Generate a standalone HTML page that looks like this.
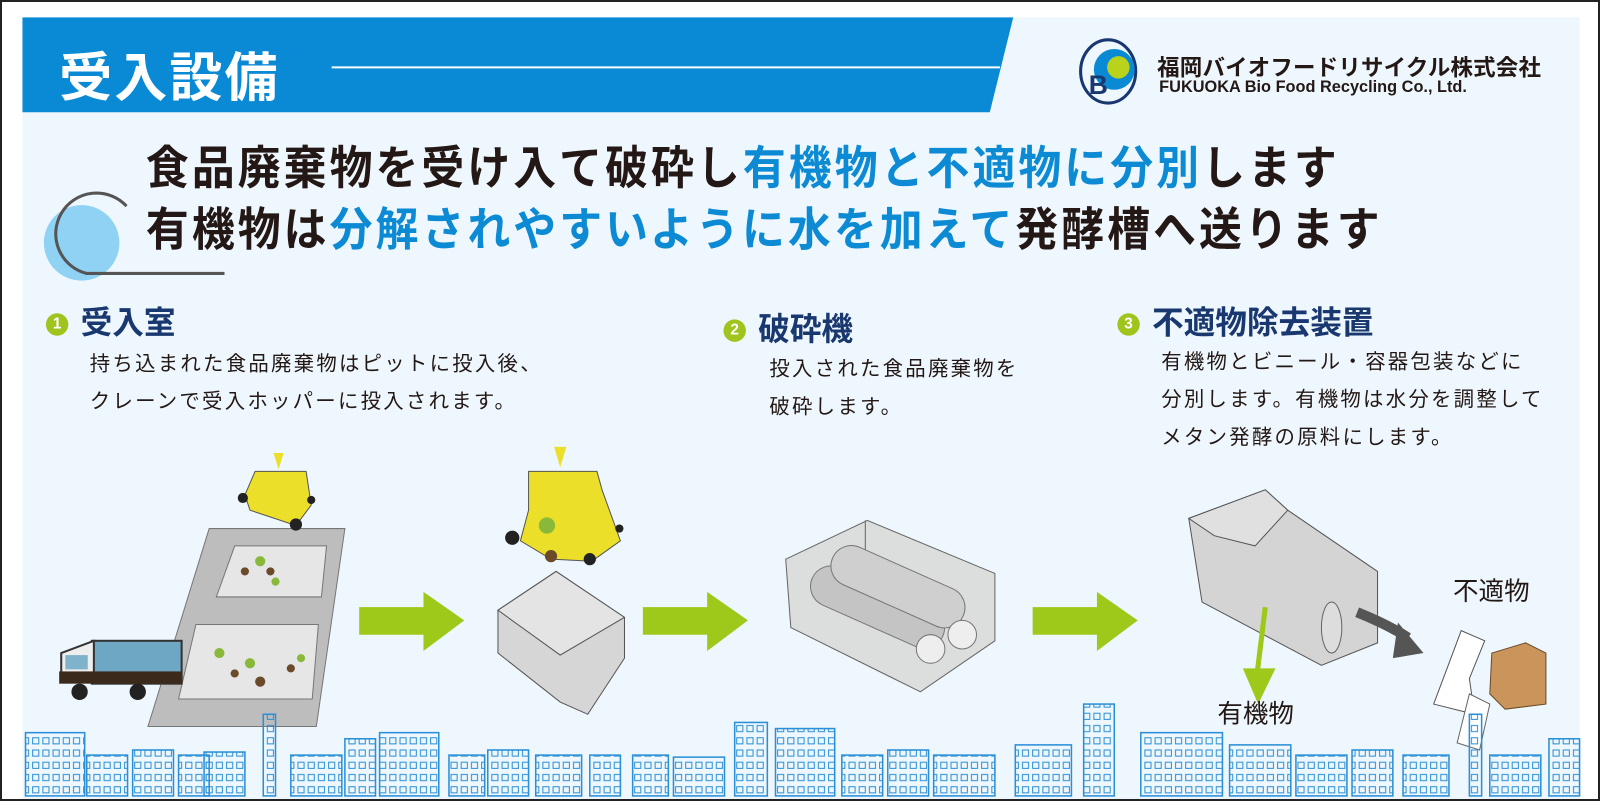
<!DOCTYPE html>
<html><head><meta charset="utf-8"><style>
body{margin:0;width:1600px;height:801px;overflow:hidden;background:#fff;font-family:"Liberation Sans","Noto Sans CJK JP",sans-serif;}
#f{position:absolute;left:0;top:0;width:1596px;height:797px;border:2px solid #222;z-index:5}
#w{position:absolute;left:0;top:0;width:1568px;height:785px;transform:scale(1.0204);transform-origin:0 0}
.t{position:absolute;white-space:nowrap;}
.h{font-weight:bold;font-size:42px;color:#231815;letter-spacing:3px;transform:scale(1,1.08);transform-origin:0 50%}
.b{color:#0c8ad4}
.sec{font-weight:bold;font-size:31px;color:#1a3870}
.num{display:inline-block;width:22px;height:22px;border-radius:50%;background:#9fc41e;color:#fff;font-size:15px;text-align:center;line-height:22px;margin-right:12px;vertical-align:5px}
.p{font-size:20px;color:#231815;line-height:37px;letter-spacing:2.2px}
</style></head><body>
<div id="f"></div>
<div id="w">
<div style="position:absolute;left:22px;top:17px;width:1526px;height:766px;background:#eef7fd"></div>
<svg style="position:absolute;left:0;top:0" width="1568" height="785">
<defs>
<pattern id="win" width="10" height="12" patternUnits="userSpaceOnUse"><rect x="2" y="3" width="6" height="6" fill="none" stroke="#2a8fd6" stroke-width="1"/></pattern>
</defs>
<polygon points="22,17 993,17 970,110 22,110" fill="#0a8ad5"/>
<line x1="325" y1="66" x2="980" y2="66" stroke="#fff" stroke-width="2"/>
<circle cx="80" cy="238" r="37" fill="#8fd2f4"/>
<path d="M124,202 A40,40 0 1 0 85,268 L220,268" fill="none" stroke="#555" stroke-width="3"/>
<ellipse cx="1086" cy="70" rx="27" ry="31" fill="none" stroke="#1a3870" stroke-width="3"/>
<circle cx="1092" cy="68" r="20" fill="#0a8ad5"/>
<circle cx="1096" cy="66" r="11" fill="#b9d21c"/>
<text x="1067" y="92" font-family="Liberation Sans" font-weight="bold" font-size="26" fill="#1a3870">B</text>
<g fill="#9fc91a">
<polygon points="352,595 415,595 415,580 455,608 415,638 415,622 352,622"/>
<polygon points="630,595 693,595 693,580 733,608 693,638 693,622 630,622"/>
<polygon points="1012,595 1075,595 1075,580 1115,608 1075,638 1075,622 1012,622"/>
</g>
<polygon points="205,518 338,518 310,712 145,712" fill="#bdbdbd" stroke="#777"/>
<polygon points="230,535 320,535 315,585 212,585" fill="#e6e6e6" stroke="#777"/>
<polygon points="192,612 312,612 306,685 175,685" fill="#e6e6e6" stroke="#777"/>
<g fill="#6b4a2a"><circle cx="240" cy="560" r="4"/><circle cx="265" cy="560" r="4"/><circle cx="230" cy="660" r="4"/><circle cx="255" cy="668" r="5"/><circle cx="285" cy="655" r="4"/></g>
<g fill="#8ab83a"><circle cx="255" cy="550" r="5"/><circle cx="270" cy="570" r="4"/><circle cx="215" cy="640" r="5"/><circle cx="245" cy="650" r="5"/><circle cx="295" cy="645" r="4"/></g>
<polygon points="250,462 300,462 305,495 290,515 245,500 240,485" fill="#ecdf2a" stroke="#555"/>
<circle cx="238" cy="488" r="5" fill="#222"/><circle cx="290" cy="514" r="6" fill="#222"/><circle cx="305" cy="490" r="4" fill="#222"/>
<polygon points="268,444 278,444 273,460" fill="#ecdf2a"/>
<rect x="90" y="628" width="88" height="42" fill="#6ea7c4" stroke="#333" stroke-width="2"/>
<polygon points="60,640 92,628 92,668 60,668" fill="#eee" stroke="#333" stroke-width="2"/>
<rect x="64" y="642" width="22" height="14" fill="#7fb3cc"/>
<rect x="58" y="658" width="120" height="12" fill="#3b2a1c"/>
<circle cx="78" cy="678" r="8" fill="#222"/><circle cx="135" cy="678" r="8" fill="#222"/>
<polygon points="518,462 585,462 590,480 608,530 580,550 540,548 510,530 518,500" fill="#ecdf2a" stroke="#555"/>
<circle cx="502" cy="527" r="7" fill="#222"/><circle cx="578" cy="548" r="6" fill="#222"/><circle cx="607" cy="518" r="4" fill="#222"/>
<polygon points="543,438 555,438 549,458" fill="#ecdf2a"/>
<circle cx="536" cy="515" r="8" fill="#8ab83a"/><circle cx="540" cy="545" r="6" fill="#6b4a2a"/>
<polygon points="545,560 612,605 612,645 576,700 549,688 488,640 488,598" fill="#d6d6d6" stroke="#555"/>
<polygon points="545,560 612,605 549,642 488,598" fill="#e4e4e4" stroke="#555"/>
<polygon points="770,548 850,510 975,562 975,628 902,678 775,615" fill="#d9d9d9" stroke="#666" fill-opacity="0.9"/>
<line x1="848" y1="510" x2="848" y2="565" stroke="#666"/>
<rect x="790" y="575" width="140" height="40" rx="20" transform="rotate(24 860 595)" fill="#c4c4c4" stroke="#777"/>
<rect x="810" y="555" width="140" height="40" rx="20" transform="rotate(24 880 575)" fill="#cfcfcf" stroke="#777"/>
<circle cx="912" cy="636" r="14" fill="#eee" stroke="#777"/><circle cx="943" cy="622" r="14" fill="#eee" stroke="#777"/>
<polygon points="1165,508 1240,480 1262,500 1350,560 1350,630 1295,652 1178,590" fill="#d4d4d4" stroke="#555"/>
<polygon points="1165,508 1240,480 1262,500 1230,535 1190,525" fill="#e0e0e0" stroke="#555"/>
<ellipse cx="1305" cy="615" rx="10" ry="25" fill="#ddd" stroke="#666"/>
<line x1="1240" y1="595" x2="1232" y2="660" stroke="#9fc91a" stroke-width="5"/>
<polygon points="1218,655 1250,655 1233,690" fill="#9fc91a"/>
<path d="M1330,600 Q1360,612 1380,625" stroke="#555" stroke-width="10" fill="none"/>
<polygon points="1370,610 1395,640 1365,645" fill="#555"/>
<polygon points="1432,618 1455,628 1440,665 1445,700 1405,690 1420,650" fill="#fff" stroke="#555"/>
<polygon points="1462,640 1495,630 1515,640 1515,690 1475,695 1460,680" fill="#c9955a" stroke="#6b4a2a"/>
<polygon points="1440,680 1460,690 1450,735 1428,728" fill="#fff" stroke="#666"/>
<g fill="url(#win)" stroke="#2a8fd6" stroke-width="1.5">
<rect x="25" y="718" width="58" height="62"/><rect x="85" y="740" width="40" height="40"/><rect x="130" y="735" width="40" height="45"/><rect x="175" y="740" width="30" height="40"/><rect x="200" y="737" width="40" height="43"/><rect x="258" y="700" width="12" height="80"/><rect x="285" y="740" width="50" height="40"/><rect x="338" y="724" width="30" height="56"/>
<rect x="372" y="718" width="58" height="62"/><rect x="440" y="740" width="35" height="40"/><rect x="478" y="735" width="40" height="45"/><rect x="525" y="740" width="45" height="40"/><rect x="578" y="740" width="30" height="40"/><rect x="620" y="740" width="35" height="40"/><rect x="660" y="742" width="50" height="38"/>
<rect x="720" y="708" width="32" height="72"/><rect x="760" y="714" width="58" height="66"/><rect x="825" y="740" width="40" height="40"/><rect x="870" y="735" width="40" height="45"/><rect x="915" y="740" width="60" height="40"/><rect x="995" y="730" width="55" height="50"/><rect x="1062" y="690" width="30" height="90"/><rect x="1118" y="718" width="80" height="62"/><rect x="1205" y="730" width="60" height="50"/><rect x="1270" y="740" width="50" height="40"/><rect x="1325" y="735" width="40" height="45"/><rect x="1375" y="740" width="45" height="40"/><rect x="1440" y="700" width="12" height="80"/><rect x="1460" y="740" width="50" height="40"/><rect x="1518" y="724" width="30" height="56"/>
</g>
</svg>
<div class="t" style="left:58px;top:34px;font-size:52px;font-weight:bold;color:#fff;letter-spacing:2px">受入設備</div>
<div class="t" style="left:1134px;top:49px;font-size:22px;font-weight:bold;color:#231815;letter-spacing:0.2px">福岡バイオフードリサイクル株式会社</div>
<div class="t" style="left:1136px;top:77px;font-size:16px;font-weight:bold;color:#231815">FUKUOKA Bio Food Recycling Co., Ltd.</div>
<div class="t h" style="left:143px;top:131px">食品廃棄物を受け入て破砕し<span class="b">有機物と不適物に分別</span>します</div>
<div class="t h" style="left:143px;top:191px">有機物は<span class="b">分解されやすいように水を加えて</span>発酵槽へ送ります</div>
<div class="t sec" style="left:45px;top:291px"><span class="num">1</span>受入室</div>
<div class="t sec" style="left:709px;top:297px"><span class="num">2</span>破砕機</div>
<div class="t sec" style="left:1095px;top:291px"><span class="num">3</span>不適物除去装置</div>
<div class="t p" style="left:88px;top:339px">持ち込まれた食品廃棄物はピットに投入後、<br>クレーンで受入ホッパーに投入されます。</div>
<div class="t p" style="left:754px;top:344px">投入された食品廃棄物を<br>破砕します。</div>
<div class="t p" style="left:1138px;top:337px">有機物とビニール・容器包装などに<br>分別します。有機物は水分を調整して<br>メタン発酵の原料にします。</div>
<div class="t" style="left:1424px;top:560px;font-size:25px;color:#231815">不適物</div>
<div class="t" style="left:1193px;top:680px;font-size:25px;color:#231815">有機物</div>
</div>
</body></html>
